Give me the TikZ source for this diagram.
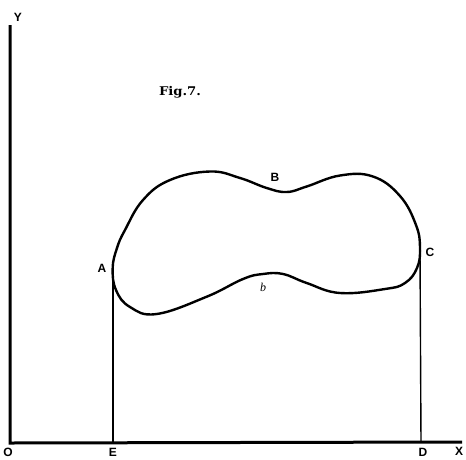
\documentclass[tikz,border=0pt]{standalone}
\usepackage{fontspec}
\setmainfont{Liberation Serif}
\setsansfont{Liberation Sans}
\newfontfamily\figfont{DejaVu Serif}
\begin{document}
\begin{tikzpicture}[x=1pt,y=-1pt,
  lab/.style={font=\fontsize{12}{13}\sffamily\bfseries,inner sep=0pt},
  axis/.style={line width=3pt},
  ord/.style={line width=1.4pt},
  curve/.style={line width=2.4pt,line join=round}]
\useasboundingbox (0,0) rectangle (466,459);
% axes
\coordinate (Ytop) at (10,25);
\coordinate (Opt) at (10,443);
\coordinate (Xend) at (462,442);
\draw[axis] (Ytop) -- (Opt) -- (Xend);
% ordinates
\coordinate (Apt) at (113,268);
\coordinate (Ept) at (113,443);
\coordinate (Cpt) at (420,252);
\coordinate (Dpt) at (421,442);
\draw[ord] (Apt) -- (Ept);
\draw[ord] (Cpt) -- (Dpt);
% closed curve
\draw[curve] plot[smooth cycle, tension=0.7] coordinates {
 (112.7,268) (117,248) (125,230) (143,200) (170,180) (210,171.5)
 (240,178) (266.7,188) (286.7,192) (306.7,186.5) (340,175.5) (373,176.5)
 (400,196) (416,225) (420,248) (417,268) (405,283) (385,289) (340,293)
 (306.7,283) (283,274) (263,274) (243,279) (206.7,296.7) (156.7,314)
 (130,307) (116,290)};
% labels
\node[lab] (Y) at (18,17) {Y};
\node[lab] (O) at (8,452) {O};
\node[lab] (E) at (113,452) {E};
\node[lab] (D) at (423,452) {D};
\node[lab] (X) at (459,451) {X};
\node[lab] (A) at (102,268) {A};
\node[lab] (B) at (275,177) {B};
\node[lab] (C) at (430,252) {C};
\node[inner sep=0pt,font=\fontsize{12}{13}\itshape] (b) at (263,287) {b};
\node[inner sep=0pt,font=\fontsize{12}{14}\figfont\bfseries,xscale=1.1,transform shape] (fig) at (180,92) {Fig.7.};
\end{tikzpicture}
\end{document}
